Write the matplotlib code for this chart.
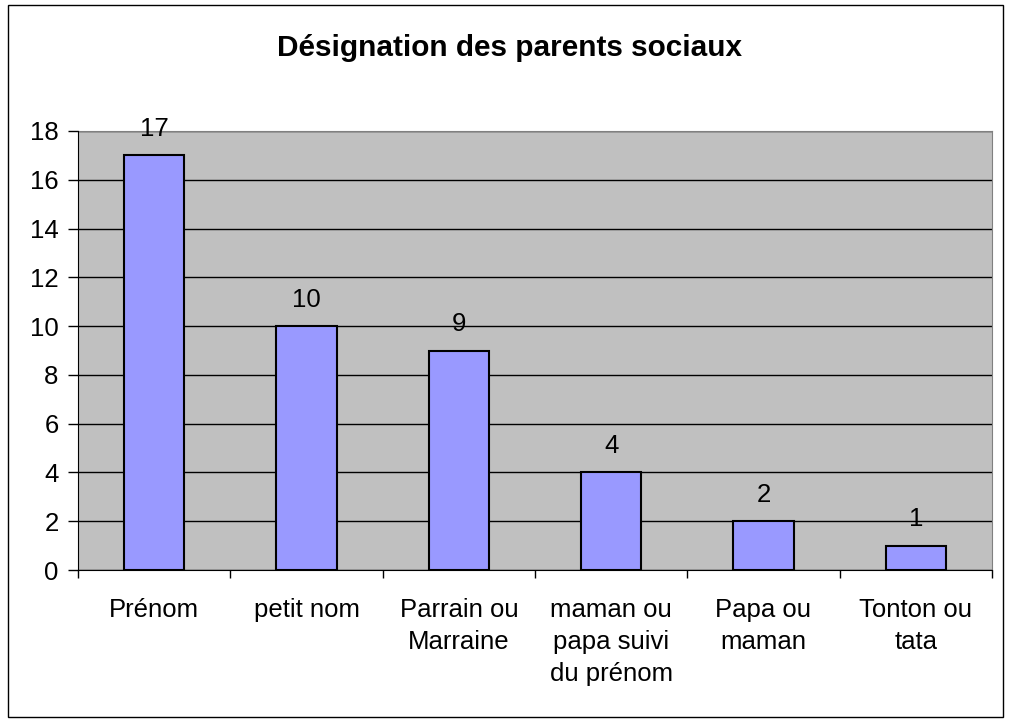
import matplotlib.pyplot as plt
from matplotlib.patches import Rectangle

categories = ["Prénom", "petit nom", "Parrain ou\nMarraine",
              "maman ou\npapa suivi\ndu prénom", "Papa ou\nmaman", "Tonton ou\ntata"]
values = [17, 10, 9, 4, 2, 1]
yticks = [0, 2, 4, 6, 8, 10, 12, 14, 16, 18]

plt.rcParams['font.family'] = ['Liberation Sans', 'DejaVu Sans']

fig = plt.figure(figsize=(10.11, 7.22), dpi=100)
ax = fig.add_axes([78 / 1011, 1 - 570 / 722, (992 - 78) / 1011, (570 - 131) / 722])
ax.set_facecolor('#C0C0C0')

x = list(range(len(categories)))
ax.bar(x, values, width=0.394, color='#9999FF', edgecolor='black', linewidth=1.5, zorder=3)

for xi, v in zip(x, values):
    ax.annotate(str(v), (xi, v), xytext=(0, 14), textcoords='offset points',
                ha='center', va='baseline', fontsize=18.5, zorder=4)

ax.set_xlim(-0.5, len(categories) - 0.5)
ax.set_ylim(0, 18)
ax.set_yticks(yticks)
ax.yaxis.grid(True, color='black', linewidth=1, zorder=1)
ax.tick_params(axis='y', labelsize=18.5, length=7, width=1, pad=7, direction='out')

# category boundary ticks + centered labels
ax.set_xticks([i - 0.5 for i in range(len(categories) + 1)])
ax.set_xticklabels([])
ax.set_xticks(x, minor=True)
ax.set_xticklabels(categories, minor=True, fontsize=18.5, linespacing=1.42)
ax.tick_params(axis='x', which='major', length=6, width=1, direction='out')
ax.tick_params(axis='x', which='minor', length=0, pad=20)

for s in ['top', 'right']:
    ax.spines[s].set_color('#808080')
for s in ['left', 'bottom']:
    ax.spines[s].set_color('black')
    ax.spines[s].set_zorder(5)

fig.text(0.504, 1 - 48 / 722, "Désignation des parents sociaux", ha='center', va='center',
         fontsize=21.4, fontweight='bold')

fig.patches.append(Rectangle((8 / 1011, 5 / 722), 995 / 1011, 712 / 722, transform=fig.transFigure,
                             fill=False, edgecolor='black', linewidth=1))

fig.savefig('out.png', dpi=100)
